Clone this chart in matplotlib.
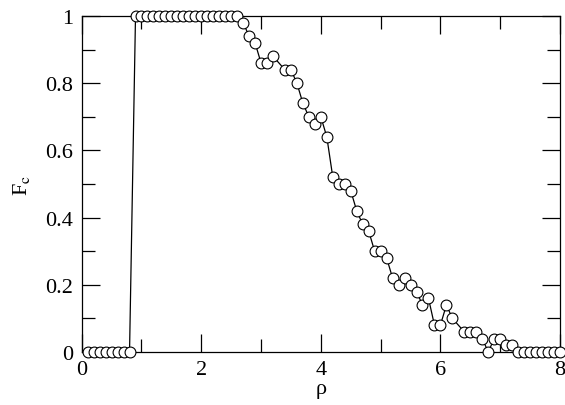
import matplotlib
matplotlib.use("Agg")
import matplotlib.pyplot as plt
from matplotlib.ticker import MultipleLocator

plt.rcParams['font.family'] = ['Liberation Serif', 'DejaVu Serif']
plt.rcParams['mathtext.fontset'] = 'stix'

rho = [0.1, 0.2, 0.3, 0.4, 0.5, 0.6, 0.7, 0.8,
       0.9, 1.0, 1.1, 1.2, 1.3, 1.4, 1.5, 1.6, 1.7, 1.8, 1.9, 2.0,
       2.1, 2.2, 2.3, 2.4, 2.5, 2.6,
       2.7, 2.8, 2.9, 3.0, 3.1, 3.2, 3.4, 3.5, 3.6, 3.7, 3.8, 3.9,
       4.0, 4.1, 4.2, 4.3, 4.4, 4.5, 4.6, 4.7, 4.8, 4.9, 5.0, 5.1,
       5.2, 5.3, 5.4, 5.5, 5.6, 5.7, 5.8, 5.9, 6.0, 6.1, 6.2, 6.4,
       6.5, 6.6, 6.7, 6.8, 6.9, 7.0, 7.1, 7.2,
       7.3, 7.4, 7.5, 7.6, 7.7, 7.8, 7.9, 8.0]
Fc = [0, 0, 0, 0, 0, 0, 0, 0,
      1, 1, 1, 1, 1, 1, 1, 1, 1, 1, 1, 1,
      1, 1, 1, 1, 1, 1,
      0.98, 0.94, 0.92, 0.86, 0.86, 0.88, 0.84, 0.84, 0.80, 0.74, 0.70, 0.68,
      0.70, 0.64, 0.52, 0.50, 0.50, 0.48, 0.42, 0.38, 0.36, 0.30, 0.30, 0.28,
      0.22, 0.20, 0.22, 0.20, 0.18, 0.14, 0.16, 0.08, 0.08, 0.14, 0.10, 0.06,
      0.06, 0.06, 0.04, 0.00, 0.04, 0.04, 0.02, 0.02,
      0, 0, 0, 0, 0, 0, 0, 0]

xticks = [0, 2, 4, 6, 8]
xticklabels = ['0', '2', '4', '6', '8']
yticks = [0, 0.2, 0.4, 0.6, 0.8, 1]
yticklabels = ['0', '0.2', '0.4', '0.6', '0.8', '1']

fig = plt.figure(figsize=(5.65, 4.06), dpi=100)
fig.patch.set_facecolor('white')

ax = fig.add_axes([81.7/565, 53/406, 478.3/565, 336/406])

ax.plot(rho, Fc, color='black', lw=0.9, marker='o', markersize=7.8,
        markerfacecolor='white', markeredgecolor='black', markeredgewidth=0.8,
        clip_on=False, zorder=3)

ax.set_xlim(0, 8)
ax.set_ylim(0, 1)
ax.set_xticks(xticks)
ax.set_xticklabels(xticklabels)
ax.set_yticks(yticks)
ax.set_yticklabels(yticklabels)
ax.xaxis.set_minor_locator(MultipleLocator(1))
ax.yaxis.set_minor_locator(MultipleLocator(0.1))
ax.tick_params(which='both', direction='in', top=True, right=True, width=0.9,
               labelsize=16, pad=6)
ax.tick_params(which='major', length=13)
ax.tick_params(which='minor', length=9.5)
for s in ax.spines.values():
    s.set_linewidth(0.9)

ax.set_xlabel('ρ', fontsize=16, labelpad=0)
ax.set_ylabel(r'F$_{\rm c}$', fontsize=16, labelpad=10)

fig.savefig('out.png', dpi=100)
